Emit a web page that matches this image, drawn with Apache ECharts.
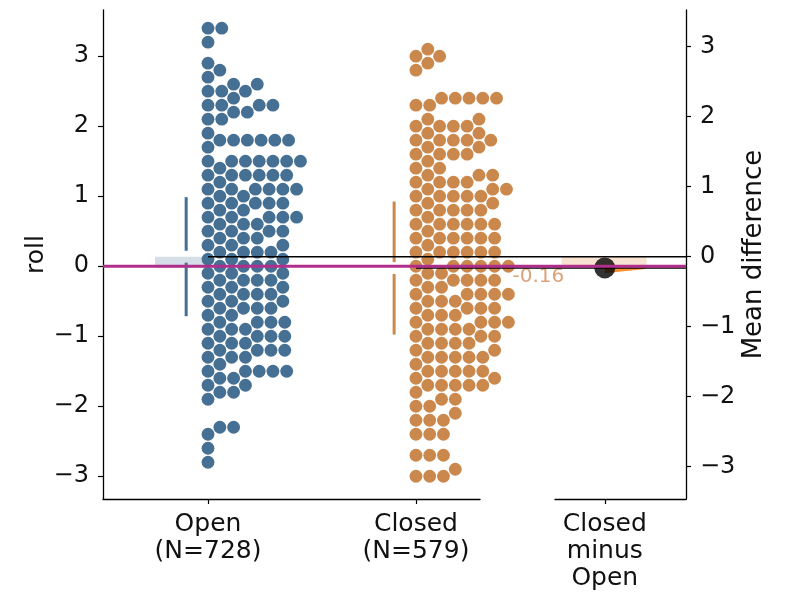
<!DOCTYPE html>
<html>
<head>
<meta charset="utf-8">
<script src="https://cdn.jsdelivr.net/npm/echarts@6/dist/echarts.min.js"></script>
<style>
  html, body { margin: 0; padding: 0; background: #fff; }
  #main { width: 786px; height: 597px; }
</style>
</head>
<body>
<div id="main"></div>
<script>
// groups
var categories = ['Open', 'Closed'];
var sampleSizes = [728, 579];

// roll values seen in the swarm (rounded to 0.1) and how many dots sit on each value
var openValues = [3.4, 3.2, 2.9, 2.8, 2.7, 2.6, 2.5, 2.4, 2.3, 2.2, 2.1, 1.9, 1.8, 1.7, 1.5, 1.4, 1.3, 1.2, 1.1, 1.0,
  0.9, 0.8, 0.7, 0.6, 0.5, 0.4, 0.3, 0.2, 0.1, 0.0, -0.1, -0.2, -0.3, -0.4, -0.5, -0.6, -0.7, -0.8, -0.9, -1.0,
  -1.1, -1.2, -1.3, -1.4, -1.5, -1.6, -1.7, -1.8, -1.9, -2.3, -2.4, -2.6, -2.8];
var openCounts = [2, 1, 1, 1, 1, 2, 3, 1, 4, 2, 2, 1, 6, 1, 7, 1, 6, 1, 6, 2,
  5, 2, 5, 3, 4, 3, 3, 4, 3, 4, 3, 4, 3, 4, 3, 4, 2, 4, 3, 4,
  3, 4, 3, 1, 5, 2, 2, 2, 1, 2, 1, 1, 1];

var closedValues = [3.1, 3.0, 2.9, 2.8, 2.4, 2.3, 2.1, 2.0, 1.9, 1.8, 1.7, 1.6, 1.5, 1.4, 1.3, 1.2, 1.1, 1.0, 0.9, 0.8,
  0.7, 0.6, 0.5, 0.4, 0.3, 0.2, 0.1, 0.0, -0.1, -0.2, -0.3, -0.4, -0.5, -0.6, -0.7, -0.8, -0.9, -1.0, -1.1, -1.2,
  -1.3, -1.4, -1.5, -1.6, -1.7, -1.8, -1.9, -2.0, -2.1, -2.2, -2.4, -2.7, -2.9, -3.0];
var closedCounts = [1, 2, 1, 1, 5, 2, 2, 4, 2, 5, 2, 4, 1, 2, 3, 4, 3, 5, 2, 5,
  1, 6, 1, 6, 1, 6, 1, 6, 2, 5, 2, 5, 3, 4, 3, 4, 4, 3, 4, 2,
  5, 1, 5, 2, 5, 1, 2, 2, 1, 3, 3, 3, 1, 3];

// summary stats (mean, sd) per group and the contrast
var groupMeans = [0.136, -0.026];
var groupSds = [0.85, 0.95];
var meanDiff = -0.16;
var contrastLabel = 'Closed\nminus\nOpen';

// bootstrap sliver next to the effect dot (x offset, mean difference)
var sliverX = [0.0, 0.31, 0.31, 0.0];
var sliverY = [-0.16, -0.16, -0.175, -0.235];

var yTicks = [-3, -2, -1, 0, 1, 2, 3];

// ---- layout ----
var openColor = '#456f93';
var closedColor = '#cb884c';
var FONT = 'DejaVu Sans';

var plotTop = 10, plotBottom = 499, plotLeft = 103, swarmRight = 480, effLeft = 555, plotRight = 686;
var xMin = -0.505, xMax = 1.308;
var yMin = -3.325, yMax = 3.66;
var pxPerX = (swarmRight - plotLeft) / (xMax - xMin);
var pxPerY = (plotBottom - plotTop) / (yMax - yMin);
var overlayXMax = xMin + (plotRight - plotLeft) / pxPerX;

var dotSize = 12.8;
var dotGap = 13.75;

function minus(v) {
  return v < 0 ? '\u2212' + Math.abs(v) : String(v);
}

// one-sided swarm: every dot goes to the leftmost free spot, lowest values first
function swarm(values, counts, groupX) {
  var pts = [];
  values.forEach(function (v, i) {
    for (var k = 0; k < counts[i]; k++) pts.push(v);
  });
  pts.sort(function (a, b) { return a - b; });
  var placed = [];
  var out = [];
  pts.forEach(function (v) {
    var py = v * pxPerY;
    var near = placed.filter(function (p) { return Math.abs(p[1] - py) < dotGap; });
    var cands = [0];
    near.forEach(function (p) {
      var dy = p[1] - py;
      cands.push(p[0] + Math.sqrt(dotGap * dotGap - dy * dy));
    });
    cands.sort(function (a, b) { return a - b; });
    var px = 0;
    for (var c = 0; c < cands.length; c++) {
      var ok = near.every(function (p) {
        var dx = p[0] - cands[c], dy = p[1] - py;
        return dx * dx + dy * dy >= dotGap * dotGap - 0.01;
      });
      if (ok) { px = cands[c]; break; }
    }
    placed.push([px, py]);
    out.push([groupX + px / pxPerX, v]);
  });
  return out;
}

var openDots = swarm(openValues, openCounts, 0);
var closedDots = swarm(closedValues, closedCounts, 1);

function rectSeries(xi, yi, x0, x1, y0, y1, color, z) {
  return {
    type: 'custom', xAxisIndex: xi, yAxisIndex: yi, z: z, silent: true,
    data: [[x0, y0]],
    renderItem: function (params, api) {
      var a = api.coord([x0, y0]), b = api.coord([x1, y1]);
      return {
        type: 'rect',
        shape: { x: Math.min(a[0], b[0]), y: Math.min(a[1], b[1]), width: Math.abs(b[0] - a[0]), height: Math.abs(b[1] - a[1]) },
        style: { fill: color }
      };
    }
  };
}

var axisLineStyle = { color: '#000', width: 1.3 };
var tickStyle = { color: '#000', width: 1.2 };
var labelBase = { color: '#111', fontFamily: FONT };

var chart = echarts.init(document.getElementById('main'));
chart.setOption({
  animation: false,
  backgroundColor: '#fff',
  grid: [
    { left: plotLeft, right: 786 - swarmRight, top: plotTop, bottom: 597 - plotBottom },
    { left: effLeft, right: 786 - plotRight, top: plotTop, bottom: 597 - plotBottom },
    { left: plotLeft, right: 786 - plotRight, top: plotTop, bottom: 597 - plotBottom }
  ],
  xAxis: [
    {
      gridIndex: 0, type: 'value', min: xMin, max: xMax, splitLine: { show: false },
      axisLine: { onZero: false, lineStyle: axisLineStyle },
      axisTick: { customValues: [0, 1], length: 5, lineStyle: tickStyle },
      axisLabel: Object.assign({}, labelBase, {
        customValues: [0, 1], fontSize: 25, lineHeight: 27, margin: 12,
        formatter: function (v) { return categories[v] + '\n(N=' + sampleSizes[v] + ')'; }
      })
    },
    {
      gridIndex: 1, type: 'value', min: -0.38, max: 0.62, splitLine: { show: false },
      axisLine: { onZero: false, lineStyle: axisLineStyle },
      axisTick: { customValues: [0], length: 5, lineStyle: tickStyle },
      axisLabel: Object.assign({}, labelBase, {
        customValues: [0], fontSize: 25, lineHeight: 27, margin: 12,
        formatter: function () { return contrastLabel; }
      })
    },
    { gridIndex: 2, type: 'value', min: xMin, max: overlayXMax, show: false }
  ],
  yAxis: [
    {
      gridIndex: 0, type: 'value', min: yMin, max: yMax, splitLine: { show: false },
      name: 'roll', nameLocation: 'middle', nameGap: 54, nameRotate: 90,
      nameTextStyle: Object.assign({}, labelBase, { fontSize: 25 }),
      axisLine: { show: true, onZero: false, lineStyle: axisLineStyle },
      axisTick: { show: true, customValues: yTicks, length: 5, lineStyle: tickStyle },
      axisLabel: Object.assign({}, labelBase, { customValues: yTicks, fontSize: 24, margin: 14, formatter: minus })
    },
    {
      gridIndex: 1, type: 'value', position: 'right',
      min: yMin - groupMeans[0], max: yMax - groupMeans[0], splitLine: { show: false },
      name: 'Mean difference', nameLocation: 'middle', nameGap: 55, nameRotate: 90,
      nameTextStyle: Object.assign({}, labelBase, { fontSize: 26 }),
      axisLine: { show: true, onZero: false, lineStyle: axisLineStyle },
      axisTick: { show: true, customValues: yTicks, length: 5, lineStyle: tickStyle },
      axisLabel: Object.assign({}, labelBase, { customValues: yTicks, fontSize: 24, margin: 14, formatter: minus })
    },
    { gridIndex: 2, type: 'value', min: yMin, max: yMax, show: false }
  ],
  series: [
    rectSeries(0, 0, -0.255, 0, groupMeans[1], groupMeans[0], '#d6dee7', 1),
    rectSeries(1, 1, -0.33, 0.32, meanDiff, 0, '#f8e3d2', 1),
    {
      type: 'scatter', name: categories[0], xAxisIndex: 0, yAxisIndex: 0, z: 2, clip: false,
      symbolSize: dotSize, itemStyle: { color: openColor, opacity: 1 }, data: openDots
    },
    {
      type: 'scatter', name: categories[1], xAxisIndex: 0, yAxisIndex: 0, z: 2, clip: false,
      symbolSize: dotSize, itemStyle: { color: closedColor, opacity: 1 }, data: closedDots
    },
    {
      // mean +/- sd bars, with a gap at the mean
      type: 'custom', xAxisIndex: 0, yAxisIndex: 0, z: 3, silent: true,
      data: groupMeans.map(function (m, i) { return [i - 0.105, m, groupSds[i], i]; }),
      renderItem: function (params, api) {
        var x = api.value(0), m = api.value(1), sd = api.value(2);
        var col = api.value(3) === 0 ? openColor : closedColor;
        var g = 0.085;
        var a = api.coord([x, m + sd]), b = api.coord([x, m + g]);
        var c = api.coord([x, m - g]), d = api.coord([x, m - sd]);
        var st = { stroke: col, lineWidth: 3 };
        return {
          type: 'group', children: [
            { type: 'line', shape: { x1: a[0], y1: a[1], x2: b[0], y2: b[1] }, style: st },
            { type: 'line', shape: { x1: c[0], y1: c[1], x2: d[0], y2: d[1] }, style: st }
          ]
        };
      }
    },
    {
      type: 'custom', xAxisIndex: 1, yAxisIndex: 1, z: 3, silent: true,
      data: [[sliverX[0], sliverY[0]]],
      renderItem: function (params, api) {
        var pts = sliverX.map(function (x, i) { return api.coord([x, sliverY[i]]); });
        return { type: 'polygon', shape: { points: pts }, style: { fill: '#f5912e' } };
      }
    },
    {
      type: 'scatter', xAxisIndex: 1, yAxisIndex: 1, z: 4, silent: true,
      symbolSize: 21, itemStyle: { color: '#000' },
      data: [[0, meanDiff]],
      label: {
        show: true, position: 'left', distance: 30, offset: [0, 9],
        color: '#d38b57', fontSize: 20, fontFamily: FONT,
        formatter: function (p) { return p.value[1].toFixed(2); }
      }
    },
    {
      type: 'line', xAxisIndex: 2, yAxisIndex: 2, z: 5, silent: true, symbol: 'none',
      lineStyle: { color: '#000', width: 1.5 },
      data: [[0, groupMeans[0]], [overlayXMax, groupMeans[0]]]
    },
    {
      type: 'line', xAxisIndex: 2, yAxisIndex: 2, z: 5, silent: true, symbol: 'none',
      lineStyle: { color: '#000', width: 1.5 },
      data: [[1, groupMeans[1]], [overlayXMax, groupMeans[1]]]
    },
    {
      type: 'line', xAxisIndex: 2, yAxisIndex: 2, z: 6, silent: true, symbol: 'none',
      lineStyle: { color: '#b12f8c', width: 3.2 },
      data: [[xMin, 0], [overlayXMax, 0]]
    }
  ]
});
</script>
</body>
</html>
